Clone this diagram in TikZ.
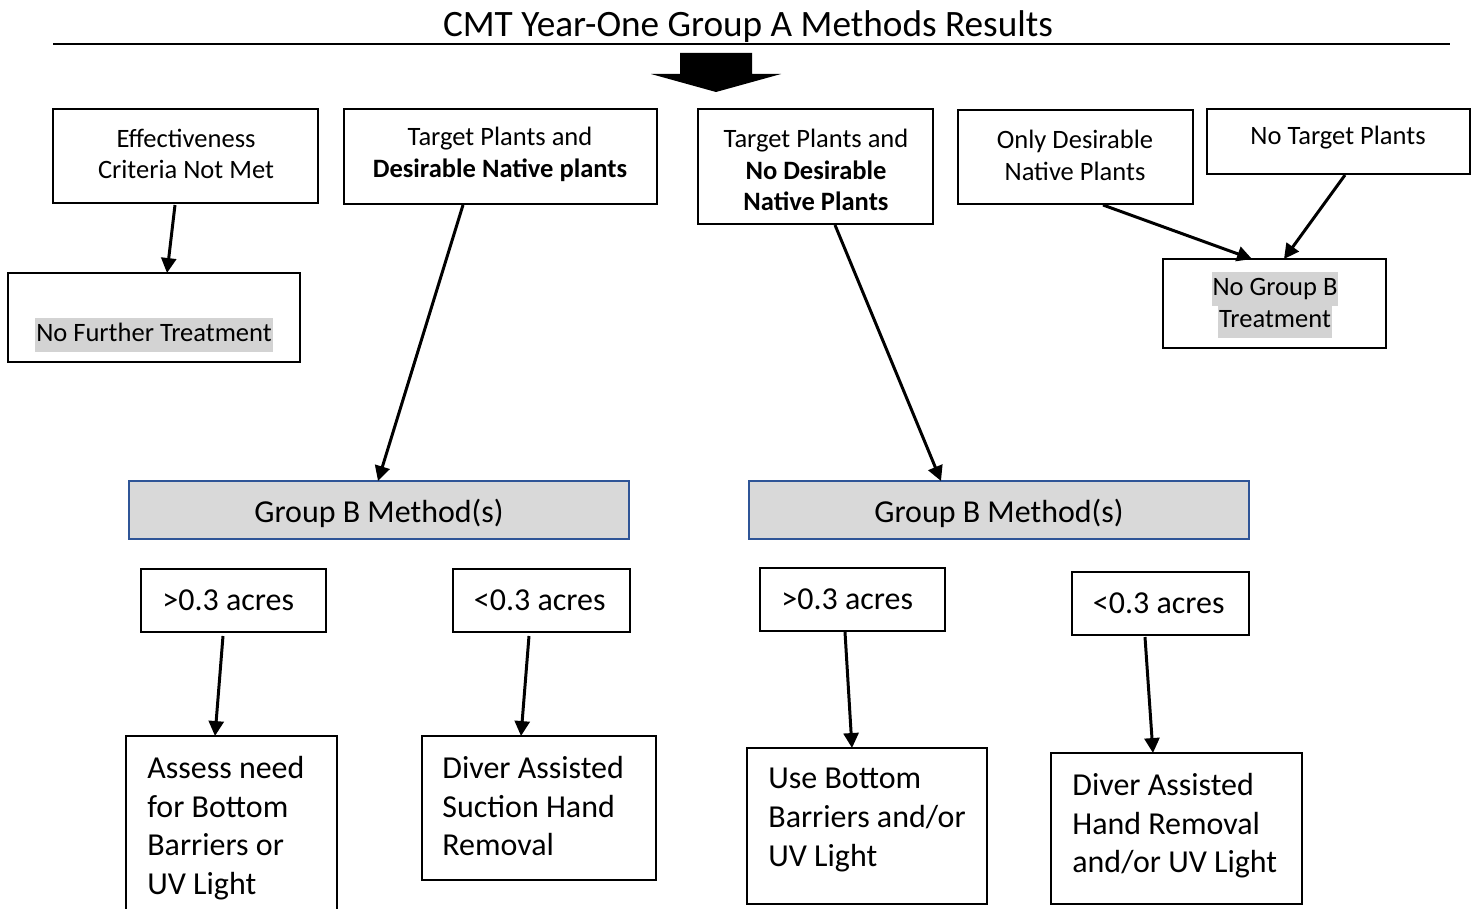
\documentclass[tikz,border=0pt]{standalone}
\usepackage{fontspec}
\setmainfont{Carlito}
\usetikzlibrary{arrows.meta,calc}
\definecolor{hlgray}{HTML}{D3D3D3}
\definecolor{gbfill}{HTML}{D9D9D9}
\definecolor{gbline}{HTML}{2F5597}
\newcommand{\hlt}[1]{{\setlength{\fboxsep}{0.5pt}\colorbox{hlgray}{\strut #1}}}
\newcommand{\bx}[6][box]{\node[#1, minimum width={(#5-#3)*0.02cm}, minimum height={(#6-#4)*0.02cm}] (#2) at (#3,#4) {};}
\begin{document}
\begin{tikzpicture}[x=0.02cm,y=-0.02cm,
  box/.style={draw=black, line width=0.8pt, anchor=north west, inner sep=0pt, outer sep=0pt},
  gbox/.style={box, draw=gbline, line width=1.3pt, fill=gbfill},
  small/.style={font=\fontsize{15.1}{18.1}\selectfont, align=center, inner sep=0pt},
  acre/.style={font=\fontsize{18.2}{22}\selectfont, inner sep=0pt},
  big/.style={font=\fontsize{18.2}{22}\selectfont, align=left, inner sep=0pt, anchor=north west},
  arr/.style={line width=1.7pt, -{Triangle[width=8.5pt,length=8.5pt]}}]
\useasboundingbox (0,0) rectangle (1478,909);
% title
\node[font=\fontsize{21.2}{25}\selectfont, inner sep=0pt] (title) at (748,27) {CMT Year-One Group A Methods Results};
\coordinate (rl) at (53,44);
\coordinate (rr) at (1450,44);
\draw[line width=1.7pt] (rl) -- (rr);
\fill (680,53) -- (752,53) -- (752,74) -- (781,74) -- (716,92) -- (651,74) -- (680,74) -- cycle;
% top boxes
\bx{eff}{53}{109}{318}{203}
\bx{tpdn}{344}{109}{657}{204}
\bx{tpnd}{698}{109}{933}{224}
\bx{odn}{958}{110}{1193}{204}
\bx{ntp}{1207}{109}{1470}{174}
\bx{nft}{8}{273}{300}{362}
\bx{ngb}{1163}{259}{1386}{348}
\node[small] (efft) at (186,154) {Effectiveness\\Criteria Not Met};
\node[small] (tpdnt) at (500,154) {Target Plants and\\\textbf{Desirable Native plants}};
\node[small] (tpndt) at (816,170) {Target Plants and\\\textbf{No Desirable}\\\textbf{Native Plants}};
\node[small] (odnt) at (1075,155) {Only Desirable\\Native Plants};
\node[small] (ntpt) at (1338,138) {No Target Plants};
\node[small] (nftt) at (154,335) {\hlt{No Further Treatment}};
\node[small] (ngbt) at (1275,305) {\hlt{No Group B}\\[-2pt]\hlt{Treatment}};
% group B
\bx[gbox]{gbl}{129}{481}{629}{539}
\bx[gbox]{gbr}{749}{481}{1249}{539}
\node[font=\fontsize{18.2}{22}\selectfont, inner sep=0pt] (gblt) at ([yshift=-2pt]gbl.center) {Group B Method(s)};
\node[font=\fontsize{18.2}{22}\selectfont, inner sep=0pt] (gbrt) at ([yshift=-2pt]gbr.center) {Group B Method(s)};
% acres
\bx{la}{141}{569}{326}{632}
\bx{lb}{453}{569}{630}{632}
\bx{ra}{760}{568}{945}{631}
\bx{rb}{1072}{572}{1249}{635}
\node[acre] (lat) at ([xshift=-3pt]la.center) {>0.3 acres};
\node[acre] (lbt) at ([xshift=-1pt]lb.center) {<0.3 acres};
\node[acre] (rat) at ([xshift=-3pt]ra.center) {>0.3 acres};
\node[acre] (rbt) at ([xshift=-1pt]rb.center) {<0.3 acres};
% bottom boxes
\bx{b1}{126}{736}{337}{915}
\bx{b2}{422}{736}{656}{880}
\bx{b3}{747}{748}{987}{904}
\bx{b4}{1051}{753}{1302}{904}
\node[big] (b1t) at (147,756) {Assess need\\for Bottom\\Barriers or\\UV Light};
\node[big] (b2t) at (442,756) {Diver Assisted\\Suction Hand\\Removal};
\node[big] (b3t) at (768,768) {Use Bottom\\Barriers and/or\\UV Light};
\node[big] (b4t) at (1072,773) {Diver Assisted\\Hand Removal\\and/or UV Light};
% arrows
\draw[arr] ($(eff.south west)+(122,2)$) -- ($(nft.north west)+(159,0)$);
\draw[arr] ($(tpdn.south west)+(119,1)$) -- ($(gbl.north west)+(249,0)$);
\draw[arr] ($(tpnd.south west)+(137,1)$) -- ($(gbr.north west)+(192,0)$);
\draw[arr] ($(odn.south west)+(145,1)$) -- ($(ngb.north west)+(89,0)$);
\draw[arr] ($(ntp.south west)+(138,1)$) -- ($(ngb.north west)+(121,0)$);
\draw[arr] ($(la.south west)+(82,4)$) -- ($(b1.north west)+(89,0)$);
\draw[arr] ($(lb.south west)+(76,4)$) -- ($(b2.north west)+(99,0)$);
\draw[arr] ($(ra.south west)+(85,1)$) -- ($(b3.north west)+(105,0)$);
\draw[arr] ($(rb.south west)+(73,2)$) -- ($(b4.north west)+(102,0)$);
\end{tikzpicture}
\end{document}
